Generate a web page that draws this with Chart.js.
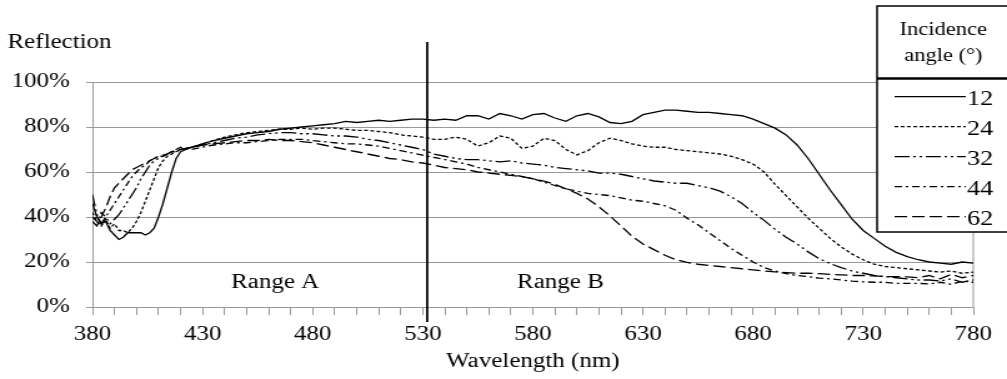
<!DOCTYPE html>
<html><head><meta charset="utf-8">
<script src="https://cdn.jsdelivr.net/npm/chart.js@4/dist/chart.umd.min.js"></script>
<style>
html,body{margin:0;padding:0;background:#fff;overflow:hidden;width:1007px;height:379px;}
#wrap{position:absolute;left:0;top:0;width:806px;height:379px;transform:scaleX(1.24938);transform-origin:0 0;}
</style></head><body>
<div id="wrap"><canvas id="c"></canvas></div>
<script>
// Wavelength samples (nm)
const wavelengths = [
  380,382,384,386,388,390,392,394,396,398,400,402,404,406,408,410,412,414,416,418,420,
  425,430,435,440,445,450,455,460,465,470,
  475,480,485,490,495,500,505,510,515,520,
  525,530,535,540,545,550,555,560,565,570,
  575,580,585,590,595,600,605,610,615,620,
  625,630,635,640,645,650,655,660,665,670,
  675,680,685,690,695,700,705,710,715,720,
  725,730,735,740,745,750,755,760,765,770,
  775,780
];
// Reflection (%) per incidence angle
const angles = ['12','24','32','44','62'];
const refl12 = [
  46,40,37,38,34,32,30,31,33,33,33,33,32,33,35,40,46,53,60,66,69,
  71,72.5,74,75,76,77,77.5,78,79,79.5,
  80,80.5,81,81.5,82.5,82,82.5,83,82.5,83,
  83.5,83.5,83,83.5,83,85,85,83.5,86,85,
  83.5,85.5,86,84,82.5,85,86,84.5,82,81.5,
  82.5,85.5,86.5,87.5,87.5,87,86.5,86.5,86,85.5,
  85,83.5,81.5,79.5,76.5,72,66,59,52,45.5,
  39,34,30.5,27,24.3,22.4,21,20,19.5,19,
  20,19.5
];
const refl24 = [
  42,38,36,39,35,37,34,34,33,35,38,42,47,52,57,62,65,67,68,69,70,
  71,72.5,74,75.5,76.5,77.5,78,78.5,79,79,
  79.5,79,79.5,79.5,79,78.5,78.5,78,77.5,76.5,
  76,75.5,74.5,74.5,75.5,74.5,71.5,73,76,75,
  70.5,71.5,75,74,70,67.6,69.5,73,75,74,
  72.5,71.5,71,71,70,69.5,69,68.5,68,67,
  65.5,63.5,60,54.5,49.5,44.5,39.5,35,30.5,26.7,
  23.5,21,19,18,17.5,17,16.5,16,15.5,16,
  15,15.5
];
const refl32 = [
  50,41,37,40,37,39,41,44,47,50,53,57,60,63,65,66,67,68,69,69,70,
  71,72,73,74,75,75.5,76.5,77,77.5,77.5,
  77,77,76.5,76,76,75.5,74.5,74,73,72,
  71,70,68,67,66,65.5,65.5,65,64.5,65,
  64,63.5,63,62,61.5,61,60.5,59.5,59.5,59,
  58,57,56,55.5,55,55,54,53,51.5,49,
  46,42,38.5,34.5,31,28,24.5,21.5,19.3,17.5,
  16,15,14,13.5,13,12.5,12,12,11.5,12.5,
  11,12
];
const refl44 = [
  40,38,42,40,43,46,49,52,55,58,60,62,63,65,66,67,67,68,69,70,71,
  70,71,72,72.5,73,73,73.5,74,74.5,74.5,
  74.5,74,73.5,73,72.5,72.5,72,71.5,70.5,69.5,
  68.5,67.5,66.5,65.5,64.5,63.5,62,61,60,59,
  58,57,55.5,54,52.5,51.5,50.5,50,49.5,48.5,
  47.5,47,46,45,43,39.5,36.5,33,29.5,26,
  23,20,17.5,16,14.8,14,13.5,12.8,12.5,12,
  11.5,11.2,11,11,10.5,10.5,10.5,10.2,11,10,
  11.5,11
];
const refl62 = [
  38,36,40,44,49,53,55,57,59,61,62,63,64,65,66,67,67.5,68,69,70,70,
  71,72,72.5,73,73.5,74,74,74.5,74,74,
  73.5,73,72,71,70,69,68,67,66,65.5,
  64.5,64,63,62,61.5,61,60,59.5,59,58.5,
  58,57,56,54.5,52.5,50.5,48,44.5,40.5,36,
  31.5,28,25.5,23,21,19.8,19,18.5,18,17.5,
  17,16.5,16,15.6,15.3,15,15,14.8,14.5,14.3,
  14,14,13.8,13.5,13.5,13.4,13,14,12.5,14.5,
  13,14
];
const xTickLabels = [380,430,480,530,580,630,680,730,780];
const dividerNm = 532;
const rangeLabels = [{text:'Range A', nm:463, value:11},{text:'Range B', nm:592.5, value:11}];

const FONT = '"Liberation Serif", "Times New Roman", serif';
const series = [refl12, refl24, refl32, refl44, refl62];
const dashes = [[], [3,2], [12,3,2,3,2,3], [6,3,2,3], [10,4]];

const datasets = series.map((s, i) => ({
  label: angles[i],
  data: wavelengths.map((w, j) => ({x: w, y: s[j]})),
  borderColor: '#000', borderWidth: 1.3, borderDash: dashes[i],
  pointRadius: 0, fill: false, tension: 0
}));

const decor = {
  id: 'decor',
  beforeDatasetsDraw(chart) {
    const {ctx, chartArea: a} = chart;
    ctx.save();
    ctx.strokeStyle = '#999'; ctx.lineWidth = 1;
    ctx.beginPath(); ctx.moveTo(a.right, a.top); ctx.lineTo(a.right, a.bottom); ctx.stroke();
    ctx.restore();
  },
  afterDatasetsDraw(chart) {
    const {ctx, chartArea: a, scales: {x, y}} = chart;
    ctx.save();
    const px = x.getPixelForValue(dividerNm);
    ctx.strokeStyle = '#000'; ctx.lineWidth = 1.8; ctx.setLineDash([]);
    ctx.beginPath(); ctx.moveTo(px, a.top - 40); ctx.lineTo(px, a.bottom + 15); ctx.stroke();
    ctx.fillStyle = '#000';
    ctx.font = '20px ' + FONT; ctx.textAlign = 'center'; ctx.textBaseline = 'middle';
    rangeLabels.forEach(r => ctx.fillText(r.text, x.getPixelForValue(r.nm), y.getPixelForValue(r.value)));
    ctx.textAlign = 'left'; ctx.textBaseline = 'alphabetic';
    ctx.fillText('Reflection', 6, 48);
    // legend box
    const L = 702, T = 6, B = 232, R = 830, D = 78.5;
    ctx.fillStyle = '#fff'; ctx.fillRect(L, T, R - L, B - T);
    ctx.strokeStyle = '#000'; ctx.lineWidth = 1.5;
    ctx.strokeRect(L, T, R - L, B - T);
    ctx.lineWidth = 2.5;
    ctx.beginPath(); ctx.moveTo(L, D); ctx.lineTo(R, D); ctx.stroke();
    ctx.fillStyle = '#000'; ctx.font = '18px ' + FONT; ctx.textAlign = 'center';
    ctx.fillText('Incidence', 755, 35);
    ctx.fillText('angle (\u00B0)', 755, 61);
    ctx.font = '21px ' + FONT; ctx.textAlign = 'left';
    chart.data.datasets.forEach((ds, i) => {
      const yy = 96.7 + 30 * i;
      ctx.lineWidth = 1.3; ctx.setLineDash(ds.borderDash);
      ctx.beginPath(); ctx.moveTo(716, yy); ctx.lineTo(773, yy); ctx.stroke();
      ctx.setLineDash([]);
      ctx.fillText(ds.label, 774, yy + 8);
    });
    ctx.restore();
  }
};

new Chart(document.getElementById('c'), {
  type: 'line',
  data: { datasets },
  plugins: [decor],
  options: {
    responsive: true, maintainAspectRatio: false, animation: false,
    devicePixelRatio: 1,
    layout: { padding: { left: 0, right: 27, top: 82, bottom: 0 } },
    plugins: { legend: { display: false }, tooltip: { enabled: false } },
    scales: {
      x: {
        type: 'linear', min: 380, max: 780,
        afterFit(s) { s.height = 72; },
        ticks: {
          stepSize: 10, autoSkip: false, maxRotation: 0, padding: 8, color: '#000',
          font: { family: FONT, size: 20 },
          callback: v => xTickLabels.includes(v) ? String(v) : ''
        },
        grid: { drawOnChartArea: false, drawTicks: true, tickLength: 8, color: '#999' },
        border: { color: '#999' },
        title: { display: true, text: 'Wavelength (nm)', color: '#000', font: { family: FONT, size: 20 }, padding: { top: 5, bottom: 5 } }
      },
      y: {
        min: 0, max: 100,
        afterFit(s) { s.width = 74; },
        ticks: { stepSize: 20, padding: 13, color: '#000', font: { family: FONT, size: 20 }, callback: v => v + '%' },
        grid: { color: '#999', tickLength: 5, drawTicks: true },
        border: { color: '#999' }
      }
    }
  }
});
</script>
</body></html>
